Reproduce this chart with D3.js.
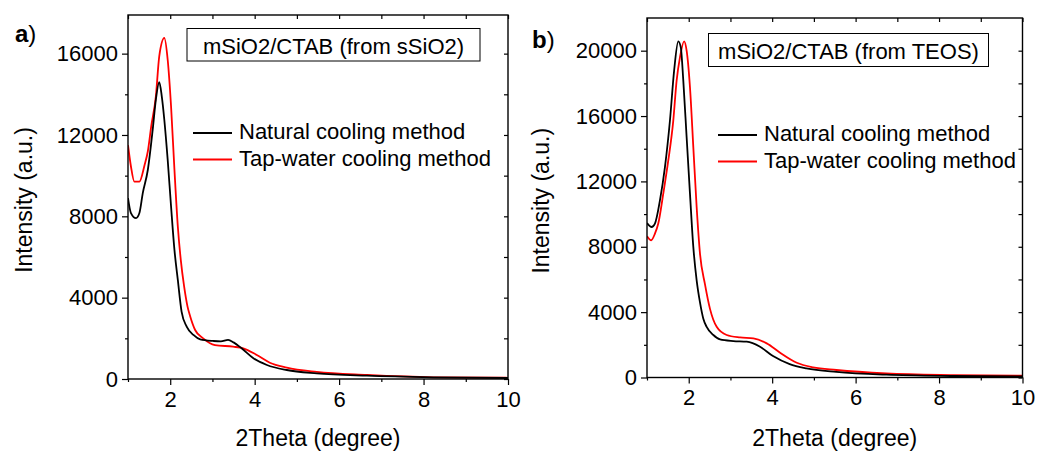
<!DOCTYPE html>
<html>
<head>
<meta charset="utf-8">
<script src="https://cdn.jsdelivr.net/npm/d3@7"></script>
<style>
  body { margin: 0; background: #fff; }
  svg { font-family: "Liberation Sans", Arial, sans-serif; }
</style>
</head>
<body>
<div id="chart"></div>
<script>
// panel a) mSiO2/CTAB (from sSiO2)
var aNaturalX = [1.0, 1.07, 1.19, 1.27, 1.35, 1.47, 1.585, 1.66, 1.74, 1.80, 1.86, 1.94, 2.02, 2.10, 2.18, 2.27, 2.39, 2.55, 2.71, 3.02, 3.2, 3.37, 3.5, 3.69, 3.97, 4.29, 4.76, 5.47, 6.66, 8.23, 10];
var aNaturalY = [8900, 8160, 7910, 8160, 9140, 10290, 12260, 13735, 14600, 13900, 12750, 10780, 8480, 6350, 4870, 3300, 2575, 2166, 1950, 1870, 1850, 1920, 1800, 1510, 1020, 690, 443, 280, 162, 84, 50];
var aTapX = [1.0, 1.07, 1.15, 1.27, 1.39, 1.47, 1.55, 1.66, 1.74, 1.86, 1.94, 2.02, 2.10, 2.18, 2.25, 2.33, 2.41, 2.47, 2.59, 2.78, 3.06, 3.49, 3.73, 4.05, 4.36, 4.76, 5.47, 6.66, 8.23, 10];
var aTapY = [11500, 10450, 9710, 9710, 10500, 11200, 12420, 13900, 15870, 16770, 15700, 13400, 10290, 7500, 5860, 4540, 3560, 3100, 2410, 2000, 1670, 1590, 1510, 1180, 800, 560, 350, 200, 84, 60];

// panel b) mSiO2/CTAB (from TEOS)
var bNaturalX = [1.0, 1.11, 1.19, 1.31, 1.43, 1.55, 1.65, 1.75, 1.81, 1.87, 1.95, 2.03, 2.11, 2.19, 2.27, 2.35, 2.43, 2.59, 2.75, 3.07, 3.39, 3.71, 4.02, 4.42, 4.82, 5.54, 6.74, 8.34, 10];
var bNaturalY = [9450, 9210, 9420, 10840, 12870, 15725, 18780, 20570, 20200, 18170, 14700, 11250, 7990, 5950, 4600, 3600, 3100, 2600, 2330, 2230, 2190, 1880, 1310, 820, 560, 340, 170, 92, 60];
var bTapX = [1.0, 1.10, 1.19, 1.27, 1.39, 1.51, 1.63, 1.71, 1.79, 1.89, 1.95, 2.03, 2.11, 2.19, 2.27, 2.39, 2.51, 2.67, 2.91, 3.23, 3.55, 3.87, 4.19, 4.59, 4.98, 5.54, 6.74, 8.34, 10];
var bTapY = [8650, 8400, 8800, 9420, 11250, 13280, 15725, 18170, 19590, 20570, 20000, 17760, 14100, 10430, 7580, 5700, 4200, 3100, 2600, 2450, 2390, 2090, 1515, 900, 620, 460, 250, 150, 110];

var xMajorTicks = [2, 4, 6, 8, 10];
var xMinorTicks = [1, 3, 5, 7, 9];
var aYTicks = [0, 4000, 8000, 12000, 16000];
var bYTicks = [0, 4000, 8000, 12000, 16000, 20000];
var seriesNames = ["Natural cooling method", "Tap-water cooling method"];
var seriesColors = ["#000000", "#ff0000"];

var svg = d3.select("#chart").append("svg")
    .attr("width", 1037)
    .attr("height", 452);

function zip(xs, ys) {
    return xs.map(function(d, i) { return [d, ys[i]]; });
}

function drawPanel(p) {
    var x = d3.scaleLinear().domain([1, 10]).range([p.left, p.right]);
    var y = d3.scaleLinear().domain([0, p.yMax]).range([p.bottom, p.top]);

    var minorY = d3.range(2000, p.yMax, 4000);

    // bottom axis, outward ticks
    var gb = svg.append("g").attr("transform", "translate(0," + p.bottom + ")");
    gb.call(d3.axisBottom(x).tickValues(xMajorTicks).tickSizeInner(6).tickSizeOuter(0).tickPadding(6));
    svg.append("g").attr("transform", "translate(0," + p.bottom + ")")
        .call(d3.axisBottom(x).tickValues(xMinorTicks).tickSize(3).tickFormat(""));
    // left axis, outward ticks
    var gl = svg.append("g").attr("transform", "translate(" + p.left + ",0)");
    gl.call(d3.axisLeft(y).tickValues(p.yTicks).tickSizeInner(6).tickSizeOuter(0).tickPadding(4).tickFormat(d3.format("d")));
    svg.append("g").attr("transform", "translate(" + p.left + ",0)")
        .call(d3.axisLeft(y).tickValues(minorY).tickSize(3).tickFormat(""));
    // top and right, inward ticks
    svg.append("g").attr("transform", "translate(0," + p.top + ")")
        .call(d3.axisTop(x).tickValues(xMajorTicks.concat(xMinorTicks)).tickSize(-4).tickFormat(""));
    svg.append("g").attr("transform", "translate(" + p.right + ",0)")
        .call(d3.axisRight(y).tickValues(p.yTicks.concat(minorY)).tickSize(-4).tickFormat(""));

    svg.selectAll(".domain").remove();
    svg.selectAll(".tick line").attr("stroke", "#000").attr("stroke-width", 1.2);
    gb.selectAll("text").attr("font-size", 22).attr("fill", "#000")
        .attr("font-family", "Liberation Sans, Arial, sans-serif");
    gl.selectAll("text").attr("font-size", 22).attr("fill", "#000")
        .attr("font-family", "Liberation Sans, Arial, sans-serif");

    var clipId = "clip" + p.id;
    svg.append("clipPath").attr("id", clipId).append("rect")
        .attr("x", p.left).attr("y", p.top)
        .attr("width", p.right - p.left).attr("height", p.bottom - p.top);

    var line = d3.line()
        .x(function(d) { return x(d[0]); })
        .y(function(d) { return y(d[1]); })
        .curve(d3.curveMonotoneX);

    // tap-water first so the natural curve is on top where they overlap
    [1, 0].forEach(function(k) {
        svg.append("path")
            .datum(p.series[k])
            .attr("clip-path", "url(#" + clipId + ")")
            .attr("fill", "none")
            .attr("stroke", seriesColors[k])
            .attr("stroke-width", 1.8)
            .attr("stroke-linejoin", "round")
            .attr("d", line);
    });

    // frame
    svg.append("rect")
        .attr("x", p.left).attr("y", p.top)
        .attr("width", p.right - p.left).attr("height", p.bottom - p.top)
        .attr("fill", "none").attr("stroke", "#000").attr("stroke-width", 1.4);

    // title box
    svg.append("rect")
        .attr("x", p.box[0]).attr("y", p.box[1])
        .attr("width", p.box[2]).attr("height", p.box[3])
        .attr("fill", "#fff").attr("stroke", "#000").attr("stroke-width", 1);
    svg.append("text")
        .attr("x", p.box[0] + p.box[2] / 2).attr("y", p.box[1] + 25)
        .attr("text-anchor", "middle").attr("font-size", 22)
        .text(p.title);

    // legend
    seriesNames.forEach(function(name, i) {
        var ly = p.legend[1] + i * 26.5;
        svg.append("line")
            .attr("x1", p.legend[0]).attr("x2", p.legend[0] + 39)
            .attr("y1", ly).attr("y2", ly)
            .attr("stroke", seriesColors[i]).attr("stroke-width", 1.8);
        svg.append("text")
            .attr("x", p.legend[0] + 46).attr("y", ly + 6)
            .attr("font-size", 22)
            .text(name);
    });

    // axis titles
    svg.append("text")
        .attr("x", (p.left + p.right) / 2).attr("y", 446)
        .attr("text-anchor", "middle").attr("font-size", 23)
        .text("2Theta (degree)");
    svg.append("text")
        .attr("transform", "translate(" + p.yTitleX + "," + ((p.top + p.bottom) / 2 + 3) + ") rotate(-90)")
        .attr("text-anchor", "middle").attr("font-size", 23)
        .text("Intensity (a.u.)");

    // panel label
    var lab = svg.append("text")
        .attr("x", p.label[0]).attr("y", p.label[1])
        .attr("font-size", 24);
    lab.append("tspan").attr("font-weight", "bold").text(p.labelText);
    lab.append("tspan").text(")");
}

drawPanel({
    id: "a", left: 128, right: 508, top: 15, bottom: 379, yMax: 17900, yTicks: aYTicks,
    series: [zip(aNaturalX, aNaturalY), zip(aTapX, aTapY)],
    title: "mSiO2/CTAB (from sSiO2)", box: [187, 28.5, 293, 32.5],
    legend: [193, 133], yTitleX: 32, label: [15, 42], labelText: "a"
});

drawPanel({
    id: "b", left: 647, right: 1022.5, top: 18, bottom: 377.5, yMax: 22000, yTicks: bYTicks,
    series: [zip(bNaturalX, bNaturalY), zip(bTapX, bTapY)],
    title: "mSiO2/CTAB (from TEOS)", box: [708.5, 33.5, 280, 33],
    legend: [718, 135], yTitleX: 549, label: [532, 48], labelText: "b"
});
</script>
</body>
</html>
